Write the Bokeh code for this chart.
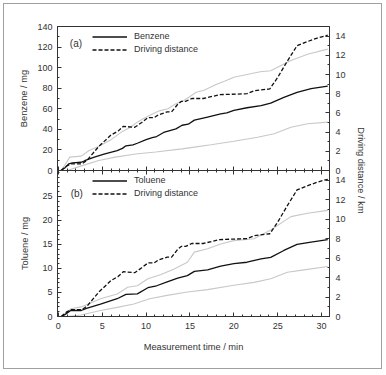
import math
from bokeh.plotting import figure
from bokeh.models import (Range1d, LinearAxis, FixedTicker, SingleIntervalTicker,
                          Legend, LegendItem, Label)
from bokeh.layouts import column, row
from bokeh.embed import file_html
from bokeh.resources import INLINE

# ---------------- data ----------------
dist_t = [0.3, 1.0, 1.5, 2.7, 3.3, 4.6, 6.0, 6.8, 7.4, 8.7, 9.5, 10.2, 10.9, 11.4, 12.4,
          12.9, 13.6, 14.0, 14.5, 15.2, 16.5, 18.4, 21.5, 22.3, 24.1, 25.0, 26.1, 27.2,
          28.3, 29.5, 30.7]
dist_km = [0, 0.5, 0.7, 0.7, 1.1, 2.5, 3.7, 4.1, 4.6, 4.5, 5.0, 5.5, 5.5, 5.8, 6.1,
           6.1, 6.9, 7.2, 7.2, 7.5, 7.5, 7.9, 8.0, 8.3, 8.5, 9.7, 11.4, 13.0,
           13.4, 13.8, 14.1]

benz_t = [0.3, 0.8, 1.2, 1.6, 2.6, 3.0, 4.1, 5.2, 6.7, 7.3, 7.7, 8.5, 9.0, 10.0, 10.7,
          11.2, 12.0, 12.6, 13.4, 14.1, 14.8, 15.5, 17.0, 18.5, 19.2, 20.0, 21.5, 23.1,
          24.2, 25.7, 27.2, 28.8, 30.7]
benz_mg = [0, 3, 6.5, 7.5, 8, 9.5, 13, 16, 19.4, 21.5, 24, 25, 26.5, 30, 32,
           33, 37, 38.5, 40.5, 44, 45, 49, 52, 55, 56, 58.5, 61, 63,
           65.5, 71, 76, 79.5, 82]

benz_hi_t = [0.3, 0.8, 1.3, 2.6, 3.5, 4.5, 6.0, 7.3, 8.2, 9.0, 9.6, 10.5, 11.5, 12.5,
             13.4, 14.3, 15.0, 15.7, 16.6, 18.1, 19.0, 20.0, 21.9, 23.0, 24.2, 26.5,
             28.4, 30.7]
benz_hi = [0, 6, 13, 14, 19.4, 23, 30, 38, 42, 47, 50, 54, 58, 60,
           65, 68, 72, 76, 78, 84, 87, 90.7, 94, 96, 97, 107,
           113, 118]

benz_lo_t = [1.0, 2.8, 4.6, 6.5, 8.8, 11.1, 14.1, 15.7, 17.4, 20.0, 22.7, 24.6, 26.5,
             28.4, 30.7]
benz_lo = [0, 5, 9.7, 13, 16, 18, 21, 23, 25, 28.5, 32.4, 35.7, 42, 45.4, 47]

tol_t = [0.4, 0.9, 1.4, 2.6, 3.2, 4.8, 6.7, 7.7, 9.0, 10.2, 11.2, 12.4, 13.6, 14.7,
         15.5, 17.0, 18.5, 20.0, 21.5, 23.1, 24.2, 25.7, 27.2, 28.8, 30.7]
tol_mg = [0, 0.6, 1.25, 1.25, 1.7, 2.6, 3.7, 4.6, 4.7, 6.0, 6.4, 7.2, 8.0, 8.5,
          9.4, 9.7, 10.5, 11.0, 11.3, 12.0, 12.3, 13.75, 15.0, 15.5, 16.0]

tol_hi_t = [0.4, 1.4, 2.6, 4.8, 6.7, 7.9, 9.0, 10.2, 11.7, 13.2, 14.7, 15.5, 17.0,
            18.5, 20.0, 22.3, 24.2, 26.5, 28.4, 30.7]
tol_hi = [0, 1.6, 2.0, 3.7, 4.7, 6.1, 6.4, 7.85, 8.75, 9.9, 11.3, 13.4, 14.1,
          15.1, 15.8, 16.2, 18.0, 20.8, 21.5, 22.1]

tol_lo_t = [1.0, 2.6, 4.8, 6.7, 8.6, 10.4, 12.4, 14.7, 17.0, 20.0, 22.3, 24.2, 26.1,
            28.0, 30.7]
tol_lo = [0, 0.3, 1.25, 1.9, 2.6, 3.7, 4.4, 5.1, 5.6, 6.5, 7.1, 7.85, 9.2, 9.7, 10.4]

x_ticks = [0, 5, 10, 15, 20, 25, 30]
benz_ticks = [0, 20, 40, 60, 80, 100, 120, 140]
tol_ticks = [0, 5, 10, 15, 20, 25]
dist_ticks = [0, 2, 4, 6, 8, 10, 12, 14]

# ---------------- style ----------------
FONT = "Liberation Sans"
TXT = "#333333"
AX = "#333333"
GREY = "#c8c8c8"
BLACK = "#111111"


def style_axis(ax, labels=True, standoff=5):
    ax.axis_line_color = AX
    ax.major_tick_line_color = AX
    ax.minor_tick_line_color = AX
    ax.major_tick_in = 4
    ax.major_tick_out = 0
    ax.minor_tick_in = 2
    ax.minor_tick_out = 0
    ax.major_label_text_font = FONT
    ax.major_label_text_font_size = "9px"
    ax.axis_label_text_font = FONT
    ax.axis_label_text_color = TXT
    ax.axis_label_text_font_style = "normal"
    ax.axis_label_text_font_size = "9.3px"
    if labels:
        ax.major_label_text_color = TXT
        ax.major_label_standoff = standoff
    else:
        ax.major_label_text_color = None
        ax.major_label_standoff = 0


def make_panel(height, top_border, bottom_border, y_end, y_ticks, y_minor, y_label,
               series_t, series_v, hi_t, hi_v, lo_t, lo_v, name, tag, legend_y,
               tag_pos, show_x_labels, top_axis):
    p = figure(width=345, height=height, output_backend="svg", toolbar_location=None,
               x_range=Range1d(-0.1, 30.9), y_range=Range1d(0, y_end),
               min_border_left=53, min_border_right=20,
               min_border_top=top_border, min_border_bottom=bottom_border)
    p.extra_y_ranges = {"dist": Range1d(0, 15)}
    p.xgrid.visible = False
    p.ygrid.visible = False
    p.outline_line_color = AX
    p.background_fill_color = "white"

    p.xaxis.ticker = SingleIntervalTicker(interval=5, num_minor_ticks=5)
    style_axis(p.xaxis[0], labels=show_x_labels, standoff=6)
    if show_x_labels:
        p.xaxis.axis_label = "Measurement time / min"
        p.xaxis.axis_label_standoff = 10

    p.yaxis.ticker = FixedTicker(ticks=y_ticks, minor_ticks=y_minor)
    style_axis(p.yaxis[0], labels=True, standoff=5)
    p.yaxis.axis_label = y_label
    p.yaxis.axis_label_standoff = 5 if y_end > 100 else 9

    rax = LinearAxis(y_range_name="dist",
                     ticker=FixedTicker(ticks=dist_ticks, minor_ticks=list(range(0, 16))))
    style_axis(rax, labels=True, standoff=6)
    p.add_layout(rax, "right")

    if top_axis:
        tax = LinearAxis(ticker=SingleIntervalTicker(interval=5, num_minor_ticks=5))
        style_axis(tax, labels=False)
        p.add_layout(tax, "above")

    p.line(hi_t, hi_v, line_color=GREY, line_width=1.1)
    p.line(lo_t, lo_v, line_color=GREY, line_width=1.1)
    r_d = p.line(dist_t, dist_km, y_range_name="dist", line_color=BLACK,
                 line_width=1.3, line_dash="4 2")
    r_s = p.line(series_t, series_v, line_color=BLACK, line_width=1.3)

    leg = Legend(items=[LegendItem(label=name, renderers=[r_s]),
                        LegendItem(label="Driving distance", renderers=[r_d])],
                 location=(35, legend_y), border_line_color=None,
                 background_fill_alpha=0, glyph_width=35, glyph_height=13,
                 label_height=13, label_standoff=7, spacing=0, padding=0, margin=0,
                 label_text_font=FONT, label_text_font_size="9px",
                 label_text_color=TXT, label_text_baseline="middle")
    p.add_layout(leg)
    p.add_layout(Label(x=tag_pos[0], y=tag_pos[1], text=tag, text_font=FONT,
                       text_font_size="10px", text_color=TXT, text_align="center",
                       text_baseline="middle"))
    return p


top = make_panel(172, 22, 6, 140, benz_ticks, list(range(0, 141, 10)), "Benzene / mg",
                 benz_t, benz_mg, benz_hi_t, benz_hi, benz_lo_t, benz_lo,
                 "Benzene", "(a)", 114.5, (2.0, 123), False, False)
top.border_fill_color = "white"
bottom = make_panel(198, 0, 52, 30.4, tol_ticks, list(range(0, 31)), "Toluene / mg",
                    tol_t, tol_mg, tol_hi_t, tol_hi, tol_lo_t, tol_lo,
                    "Toluene", "(b)", 116.5, (2.1, 25.7), True, True)
bottom.border_fill_color = None
bottom.margin = (-6, 0, 0, 0)

side = figure(width=32, height=364, output_backend="svg", toolbar_location=None,
              x_range=Range1d(0, 32), y_range=Range1d(0, 364),
              x_axis_location=None, y_axis_location=None, min_border=0)
side.xgrid.visible = False
side.ygrid.visible = False
side.outline_line_color = None
side.add_layout(Label(x=11, y=198, text="Driving distance / km", angle=-math.pi / 2,
                      text_font=FONT, text_font_size="9.3px", text_color=TXT,
                      text_align="center", text_baseline="middle"))

layout = row(column(top, bottom), side,
             styles={"border": "1px solid #a0a0a0"}, margin=(3, 0, 0, 3))

open("out.html", "w").write(file_html(layout, INLINE))
